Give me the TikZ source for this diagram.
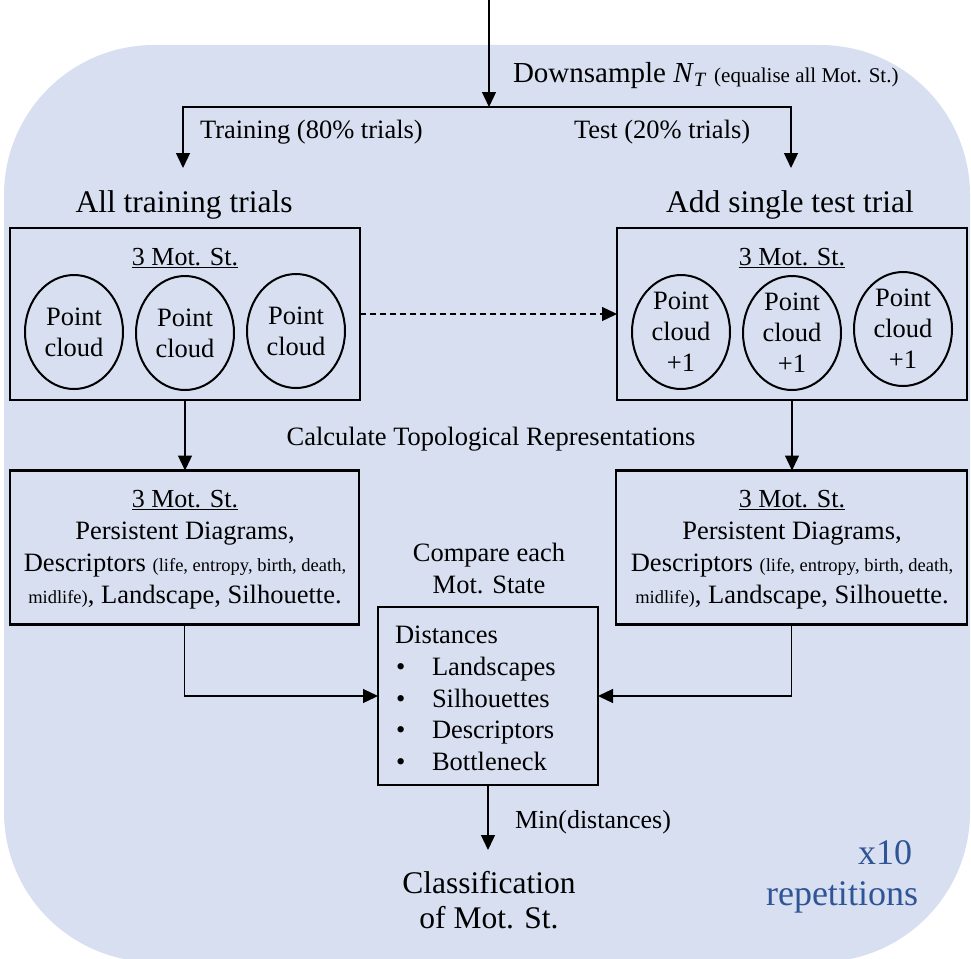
\documentclass[tikz,border=0pt]{standalone}
\usepackage{fontspec}
\setmainfont{Liberation Serif}
\usetikzlibrary{arrows.meta,shapes.geometric}
\definecolor{bgblue}{RGB}{215,223,241}
\definecolor{repblue}{RGB}{47,85,151}
\newcommand\myfs[2]{\fontsize{#1}{#2}\selectfont}
\begin{document}
\begin{tikzpicture}[x=1pt,y=-1pt,
  every node/.style={font=\myfs{26.5}{32}, inner sep=0pt, outer sep=0pt},
  box/.style={draw, line width=2.5pt, rectangle},
  cloudnode/.style={draw, ellipse, line width=2pt, minimum width=98pt, minimum height=114pt, align=center, font=\myfs{26.5}{31}},
  arr/.style={line width=1.3pt, -{Triangle[length=15pt,width=14pt]}},
  blk/.style={anchor=base, align=center}]
\useasboundingbox (0,0) rectangle (971,958);
\fill[bgblue, rounded corners=150pt] (4,45) rectangle (970,962);

% top split
\coordinate (top) at (489,0);
\coordinate (split) at (489,107);
\coordinate (ltip) at (183,168);
\coordinate (rtip) at (791,168);
\draw[arr] (top) -- (split);
\draw[arr] (split) -| (ltip);
\draw[arr] (split) -| (rtip);

\node[anchor=base west, font=\myfs{29}{34}] (down) at (513,82) {Downsample \textit{N}\textsubscript{\textit{T}} {\myfs{21}{26}(equalise all Mot. St.)}};
\node[anchor=base west, font=\myfs{26.5}{31}] (train) at (200,138) {Training (80\% trials)};
\node[anchor=base west, font=\myfs{26.5}{31}] (test) at (574,138) {Test (20\% trials)};
\node[anchor=base, font=\myfs{31.5}{36}] (alltr) at (184,212) {All training trials};
\node[anchor=base, font=\myfs{31.5}{36}] (addt) at (790,212) {Add single test trial};

% boxes
\node[box, minimum width=350pt, minimum height=172pt] (b1) at (185,314) {};
\node[box, minimum width=350pt, minimum height=172pt] (b2) at (792,314) {};
\node[box, minimum width=349pt, minimum height=154pt] (b3) at (184.5,547.5) {};
\node[box, minimum width=351pt, minimum height=154pt] (b4) at (791.5,547.5) {};
\node[box, minimum width=220pt, minimum height=178pt] (dist) at (488,696) {};

% box 1 and 2 contents
\node[anchor=base, font=\myfs{26}{30}] (t1) at (185,265) {\underline{3 Mot. St.}};
\node[anchor=base, font=\myfs{26}{30}] (t2) at (792,265) {\underline{3 Mot. St.}};
\node[cloudnode] (c1) at (74,332) {Point\\cloud};
\node[cloudnode] (c2) at (185,333) {Point\\cloud};
\node[cloudnode] (c3) at (296,331) {Point\\cloud};
\node[cloudnode] (d1) at (681,332) {Point\\cloud\\+1};
\node[cloudnode] (d2) at (792,333) {Point\\cloud\\+1};
\node[cloudnode] (d3) at (903,329) {Point\\cloud\\+1};

% box 3 and 4 contents (base = last line)
\node[blk] (r1) at (185,603) {{\myfs{26}{30}\underline{3 Mot. St.}}\\Persistent Diagrams,\\Descriptors {\myfs{18.5}{22}(life, entropy, birth, death,}\\{\myfs{18.5}{22}midlife)}, Landscape, Silhouette.};
\node[blk] (r2) at (792,603) {{\myfs{26}{30}\underline{3 Mot. St.}}\\Persistent Diagrams,\\Descriptors {\myfs{18.5}{22}(life, entropy, birth, death,}\\{\myfs{18.5}{22}midlife)}, Landscape, Silhouette.};

\node[anchor=base] (calc) at (491,445) {Calculate Topological Representations};
\node[blk] (cmp) at (489,593) {Compare each\\Mot. State};

% distances contents
\node[anchor=base west] (dh) at (395,643) {Distances};
\node[anchor=base west] (p1) at (396,675) {\textbullet};
\node[anchor=base west] (p2) at (396,707) {\textbullet};
\node[anchor=base west] (p3) at (396,738) {\textbullet};
\node[anchor=base west] (p4) at (396,770) {\textbullet};
\node[anchor=base west] (i1) at (432,675) {Landscapes};
\node[anchor=base west] (i2) at (432,707) {Silhouettes};
\node[anchor=base west] (i3) at (432,738) {Descriptors};
\node[anchor=base west] (i4) at (432,770) {Bottleneck};

% connectors
\draw[arr, dashed, dash pattern=on 6pt off 4pt] (b1.east) -- (b2.west);
\draw[arr] (b1.south) -- (b1.south |- b3.north);
\draw[arr] (b2.south) -- (b2.south |- b4.north);
\draw[arr] (b3.south) |- (dist.west);
\draw[arr] (b4.south) |- (dist.east);
\coordinate (clstip) at (488,850);
\draw[arr] (dist.south) -- (clstip);

\node[anchor=base west, font=\myfs{26}{30}] (min) at (515,828) {Min(distances)};
\node[blk, font=\myfs{31.5}{35}] (cls) at (489,928) {Classification\\of Mot. St.};

\node[anchor=base, text=repblue, font=\myfs{36}{40}] (x10) at (885,864) {x10};
\node[anchor=base, text=repblue, font=\myfs{36}{40}] (rep) at (842,905) {repetitions};
\end{tikzpicture}
\end{document}
